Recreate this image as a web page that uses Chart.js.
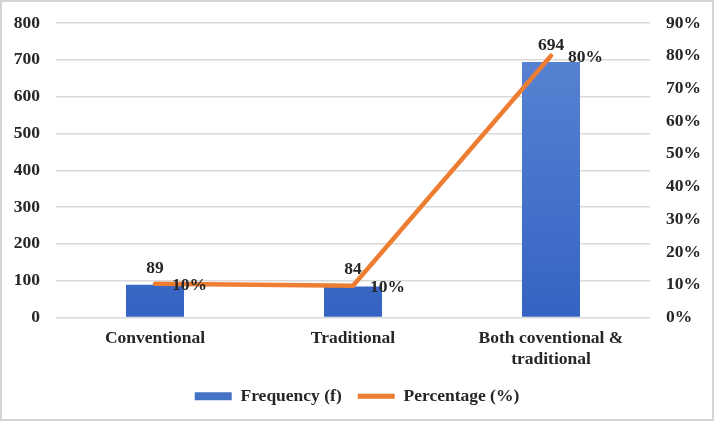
<!DOCTYPE html>
<html>
<head>
<meta charset="utf-8">
<script src="https://cdn.jsdelivr.net/npm/chart.js@4.4.1/dist/chart.umd.min.js"></script>
<style>
    html, body { margin: 0; padding: 0; background: #fff; }
    #wrap {
        width: 714px;
        height: 421px;
        box-sizing: border-box;
        border: 2px solid #d4d4d4;
        position: relative;
    }
</style>
</head>
<body>
<div id="wrap"><canvas id="chart"></canvas></div>
<script>
    const categories = ['Conventional', 'Traditional', ['Both coventional &', 'traditional']];
    const frequency = [89, 84, 694];
    const percentage = [10.3, 9.7, 80.0];
    const leftTicks = [0, 100, 200, 300, 400, 500, 600, 700, 800];
    const rightTicks = [0, 10, 20, 30, 40, 50, 60, 70, 80, 90];

    const font = { family: "'Liberation Serif', 'Times New Roman', serif", size: 17.5, weight: 'bold' };
    const textColour = '#262626';

    function barGradient(ctx) {
        const area = ctx.chart.chartArea;
        if (!area) {
            return '#4472C4';
        }
        let g = ctx.chart.ctx.createLinearGradient(0, area.top, 0, area.bottom);
        g.addColorStop(0, '#5b86d4');
        g.addColorStop(1, '#3563c3');
        return g;
    }

    // draws the value labels next to bars and points
    const valueLabels = {
        id: 'valueLabels',
        afterDatasetDraw(chart, args) {
            const ctx = chart.ctx;
            const meta = args.meta;
            const data = chart.data.datasets[args.index].data;
            ctx.save();
            ctx.font = `${font.weight} ${font.size}px ${font.family}`;
            ctx.fillStyle = textColour;
            meta.data.forEach((el, i) => {
                if (meta.type === 'bar') {
                    ctx.textAlign = 'center';
                    ctx.textBaseline = 'bottom';
                    ctx.fillText(data[i], el.x, el.y - 8);
                } else {
                    ctx.textAlign = 'left';
                    ctx.textBaseline = 'middle';
                    ctx.fillText(Math.round(data[i]) + '%', el.x + 17, el.y + 2);
                }
            });
            ctx.restore();
        }
    };

    new Chart(document.getElementById('chart'), {
        data: {
            labels: categories,
            datasets: [
                {
                    type: 'line',
                    label: 'Percentage (%)',
                    data: percentage,
                    yAxisID: 'y1',
                    borderColor: '#ED7D31',
                    backgroundColor: '#ED7D31',
                    borderWidth: 4.5,
                    pointRadius: 0,
                    borderCapStyle: 'round',
                    tension: 0,
                    order: 0
                },
                {
                    type: 'bar',
                    label: 'Frequency (f)',
                    data: frequency,
                    yAxisID: 'y',
                    backgroundColor: barGradient,
                    borderWidth: 0,
                    barPercentage: 0.586,
                    categoryPercentage: 0.5,
                    order: 1
                }
            ]
        },
        options: {
            responsive: true,
            maintainAspectRatio: false,
            animation: false,
            layout: { padding: { top: 21, left: 0, right: 0, bottom: 4 } },
            plugins: {
                tooltip: { enabled: false },
                legend: {
                    position: 'bottom',
                    reverse: true,
                    labels: {
                        usePointStyle: true,
                        pointStyleWidth: 37,
                        boxHeight: 8,
                        padding: 16,
                        color: textColour,
                        font: font,
                        generateLabels(chart) {
                            let items = Chart.defaults.plugins.legend.labels.generateLabels(chart);
                            items.forEach((item) => {
                                if (item.datasetIndex === 1) {
                                    item.fillStyle = '#4472C4';
                                    item.pointStyle = 'rect';
                                    item.lineWidth = 0;
                                } else {
                                    item.pointStyle = 'line';
                                    item.lineWidth = 5;
                                }
                            });
                            return items;
                        }
                    }
                }
            },
            scales: {
                x: {
                    grid: { display: false },
                    border: { display: false },
                    ticks: { color: textColour, font: font, maxRotation: 0, padding: 2 }
                },
                y: {
                    position: 'left',
                    min: leftTicks[0],
                    max: leftTicks[leftTicks.length - 1],
                    afterBuildTicks: (axis) => { axis.ticks = leftTicks.map(v => ({ value: v })); },
                    afterFit: (axis) => { axis.width = 54; axis.paddingTop = 0; axis.paddingBottom = 0; },
                    grid: { color: '#d9d9d9', lineWidth: 1.5, drawTicks: false },
                    border: { display: false },
                    ticks: { color: textColour, font: font, padding: 16 }
                },
                y1: {
                    position: 'right',
                    min: rightTicks[0],
                    max: rightTicks[rightTicks.length - 1],
                    afterBuildTicks: (axis) => { axis.ticks = rightTicks.map(v => ({ value: v })); },
                    afterFit: (axis) => { axis.width = 62; axis.paddingTop = 0; axis.paddingBottom = 0; },
                    grid: { display: false, drawTicks: false },
                    border: { display: false },
                    ticks: { color: textColour, font: font, padding: 16, callback: (v) => v + '%' }
                }
            }
        },
        plugins: [valueLabels]
    });
</script>
</body>
</html>
